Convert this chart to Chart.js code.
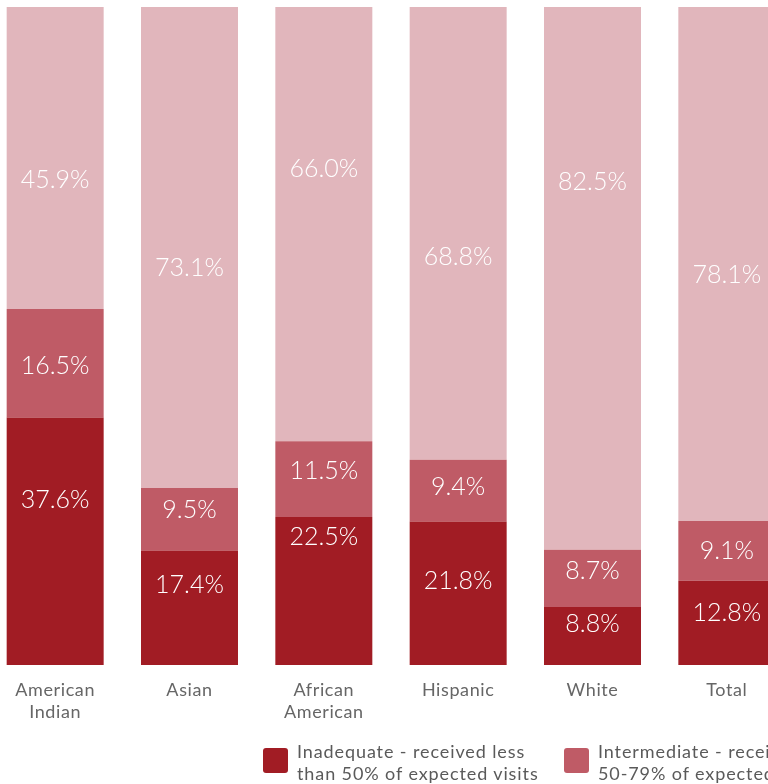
<!DOCTYPE html>
<html>
<head>
<meta charset="utf-8">
<script src="https://cdn.jsdelivr.net/npm/chart.js@4/dist/chart.umd.min.js"></script>
<style>
  html, body { margin: 0; padding: 0; background: #fff; }
  body { width: 768px; height: 784px; overflow: hidden; position: relative; font-family: Lato, "Open Sans", sans-serif; }
  #wrap { position: absolute; left: -12px; top: 0; width: 806px; height: 784px; }
  .legend { position: absolute; top: 740px; left: 0; width: 1200px; height: 44px; }
  .item { position: absolute; top: 0; }
  .swatch { position: absolute; top: 8px; width: 25px; height: 25px; border-radius: 3px; }
  .text { position: absolute; left: 34px; top: 0; white-space: nowrap; font-size: 18px; letter-spacing: 0.9px; line-height: 22px; color: #5a5a5a; }
</style>
</head>
<body>
<div id="wrap"><canvas id="chart" width="806" height="784"></canvas></div>
<div class="legend" id="legend"></div>
<script>
// Adequacy of prenatal care by race / ethnicity (share of births, %)
const categories = [["American", "Indian"], "Asian", ["African", "American"], "Hispanic", "White", "Total"];
const inadequate   = [37.6, 17.4, 22.5, 21.8, 8.8, 12.8];
const intermediate = [16.5, 9.5, 11.5, 9.4, 8.7, 9.1];
const adequate     = [45.9, 73.1, 66.0, 68.8, 82.5, 78.1];
const seriesNames = [
  ["Inadequate - received less", "than 50% of expected visits"],
  ["Intermediate - received", "50-79% of expected visits"],
  ["Adequate - received 80% or", "more of expected visits"]
];
const colors = ["#A11C24", "#BF5B66", "#E1B6BC"];

// Slightly open tracking for all canvas text
const tracking = {
  id: "tracking",
  beforeDraw(chart, args, opts) { chart.ctx.letterSpacing = opts.spacing; }
};

// Writes the value of every segment inside it, at a relative height within the segment
const segmentLabels = {
  id: "segmentLabels",
  afterDatasetsDraw(chart, args, opts) {
    const ctx = chart.ctx;
    ctx.save();
    ctx.letterSpacing = "0px";
    ctx.fillStyle = opts.color;
    ctx.font = opts.font;
    ctx.textAlign = "center";
    ctx.textBaseline = "alphabetic";
    chart.data.datasets.forEach((ds, di) => {
      const meta = chart.getDatasetMeta(di);
      meta.data.forEach((bar, i) => {
        const p = bar.getProps(["x", "y", "base"], true);
        const f = opts.anchors[di][i];
        const cy = p.base - f * (p.base - p.y);
        ctx.fillText(ds.data[i].toFixed(1) + "%", p.x, cy + opts.capHalf);
      });
    });
    ctx.restore();
  }
};

new Chart(document.getElementById("chart"), {
  type: "bar",
  data: {
    labels: categories,
    datasets: [
      { label: seriesNames[0].join(" "), data: inadequate,   backgroundColor: colors[0] },
      { label: seriesNames[1].join(" "), data: intermediate, backgroundColor: colors[1] },
      { label: seriesNames[2].join(" "), data: adequate,     backgroundColor: colors[2] }
    ]
  },
  options: {
    responsive: false,
    maintainAspectRatio: false,
    animation: false,
    devicePixelRatio: 1,
    categoryPercentage: 1,
    barPercentage: 0.722,
    layout: { padding: { top: 7, bottom: 59, left: 0, right: 0 } },
    scales: {
      x: {
        stacked: true,
        grid: { display: false, drawTicks: false },
        border: { display: false },
        ticks: {
          color: "#666",
          font: { family: "Lato", size: 18, lineHeight: 1.22 },
          padding: 14,
          maxRotation: 0,
          autoSkip: false
        },
        afterFit(scale) { scale.height = 60; }
      },
      y: {
        stacked: true,
        display: false,
        min: 0,
        max: 100
      }
    },
    plugins: {
      legend: { display: false },
      tooltip: { enabled: false },
      tracking: { spacing: "0.6px" },
      segmentLabels: {
        color: "#fff",
        font: "300 25px Lato",
        capHalf: 9,
        anchors: [
          [0.67, 0.71, 0.87, 0.59, 0.73, 0.63],
          [0.48, 0.66, 0.62, 0.57, 0.65, 0.51],
          [0.43, 0.46, 0.63, 0.45, 0.68, 0.48]
        ]
      }
    }
  },
  plugins: [tracking, segmentLabels]
});

// Legend below the chart
const legend = document.getElementById("legend");
const legendLeft = [263, 564, 865];
seriesNames.forEach((lines, i) => {
  const item = document.createElement("div");
  item.className = "item";
  item.style.left = legendLeft[i] + "px";
  const sw = document.createElement("div");
  sw.className = "swatch";
  sw.style.background = colors[i];
  const tx = document.createElement("div");
  tx.className = "text";
  tx.innerHTML = lines.join("<br>");
  item.appendChild(sw);
  item.appendChild(tx);
  legend.appendChild(item);
});
</script>
</body>
</html>
